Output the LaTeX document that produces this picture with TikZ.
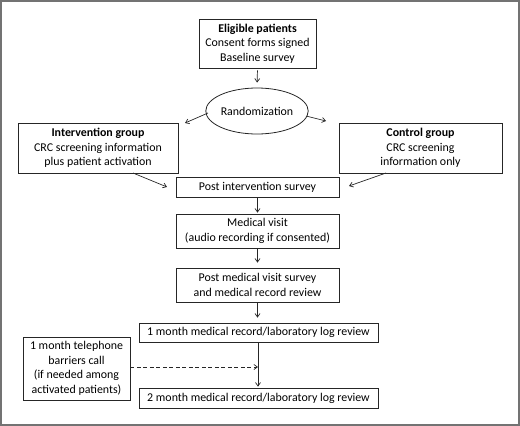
\documentclass[tikz,border=0pt]{standalone}
\usepackage{fontspec}
\setmainfont{Carlito}
\usetikzlibrary{shapes.geometric,arrows.meta}
\begin{document}
\begin{tikzpicture}[x=1pt,y=-1pt,
  box/.style={draw=black!85,line width=0.8pt,align=center,inner sep=0pt,font=\fontsize{11.9}{14.5}\selectfont,text=black},
  arr/.style={-{Straight Barb[length=3.5pt,width=5pt]},line width=0.7pt,black!85},
  dash arr/.style={arr,dashed,dash pattern=on 4pt off 2.5pt}]
\useasboundingbox (0,0) rectangle (520,426);
\draw[line width=2pt,black!55] (1,1) rectangle (519,425);
\node[box,minimum width=117pt,minimum height=49pt] (elig) at (257.5,43.5)
  {\textbf{Eligible patients}\\Consent forms signed\\Baseline survey};
\node[box,ellipse,minimum width=98pt,minimum height=46pt] (rand) at (257,111) {Randomization};
\node[box,minimum width=160pt,minimum height=50pt] (interv) at (98,148)
  {\textbf{Intervention group}\\CRC screening information\\plus patient activation};
\node[box,minimum width=163pt,minimum height=50pt] (ctrl) at (420.5,148)
  {\textbf{Control group}\\CRC screening\\information only};
\node[box,minimum width=163pt,minimum height=20pt] (postint) at (257.5,187) {Post intervention survey};
\node[box,minimum width=163pt,minimum height=34pt] (medvisit) at (257.5,231)
  {Medical visit\\(audio recording if consented)};
\node[box,minimum width=163pt,minimum height=34pt] (postmed) at (257.5,285)
  {Post medical visit survey\\and medical record review};
\node[box,minimum width=239pt,minimum height=19pt] (mone) at (258.5,332.5)
  {1 month medical record/laboratory log review};
\node[box,minimum width=239pt,minimum height=20pt] (mtwo) at (258.5,398)
  {2 month medical record/laboratory log review};
\node[box,minimum width=107pt,minimum height=63pt] (tel) at (76.5,368.5)
  {1 month telephone\\barriers call\\(if needed among\\activated patients)};
\coordinate (randL) at (208,113);
\coordinate (randLend) at (185,123);
\coordinate (randR) at (306,116);
\coordinate (randRend) at (326,121);
\coordinate (intS) at (133,173);
\coordinate (intEnd) at (167,187);
\coordinate (ctrlS) at (386,173);
\coordinate (ctrlEnd) at (349,186);
\coordinate (join) at (258,367);
\draw[arr,shorten <=2pt,shorten >=5pt] (elig.south) -- (rand.north);
\draw[arr] (randL) -- (randLend);
\draw[arr] (randR) -- (randRend);
\draw[arr] (intS) -- (intEnd);
\draw[arr] (ctrlS) -- (ctrlEnd);
\draw[arr,shorten <=1pt,shorten >=1pt] (postint.south) -- (postint.south |- medvisit.north);
\draw[arr,shorten <=1pt,shorten >=5pt] (medvisit.south) -- (postmed.north);
\draw[arr,shorten <=1pt,shorten >=5pt] (postmed.south) -- (postmed.south |- mone.north);
\draw[arr,shorten >=1pt] (mone.south -| join) -- (mtwo.north -| join);
\draw[dash arr] (tel.east |- join) -- (join);
\end{tikzpicture}
\end{document}
